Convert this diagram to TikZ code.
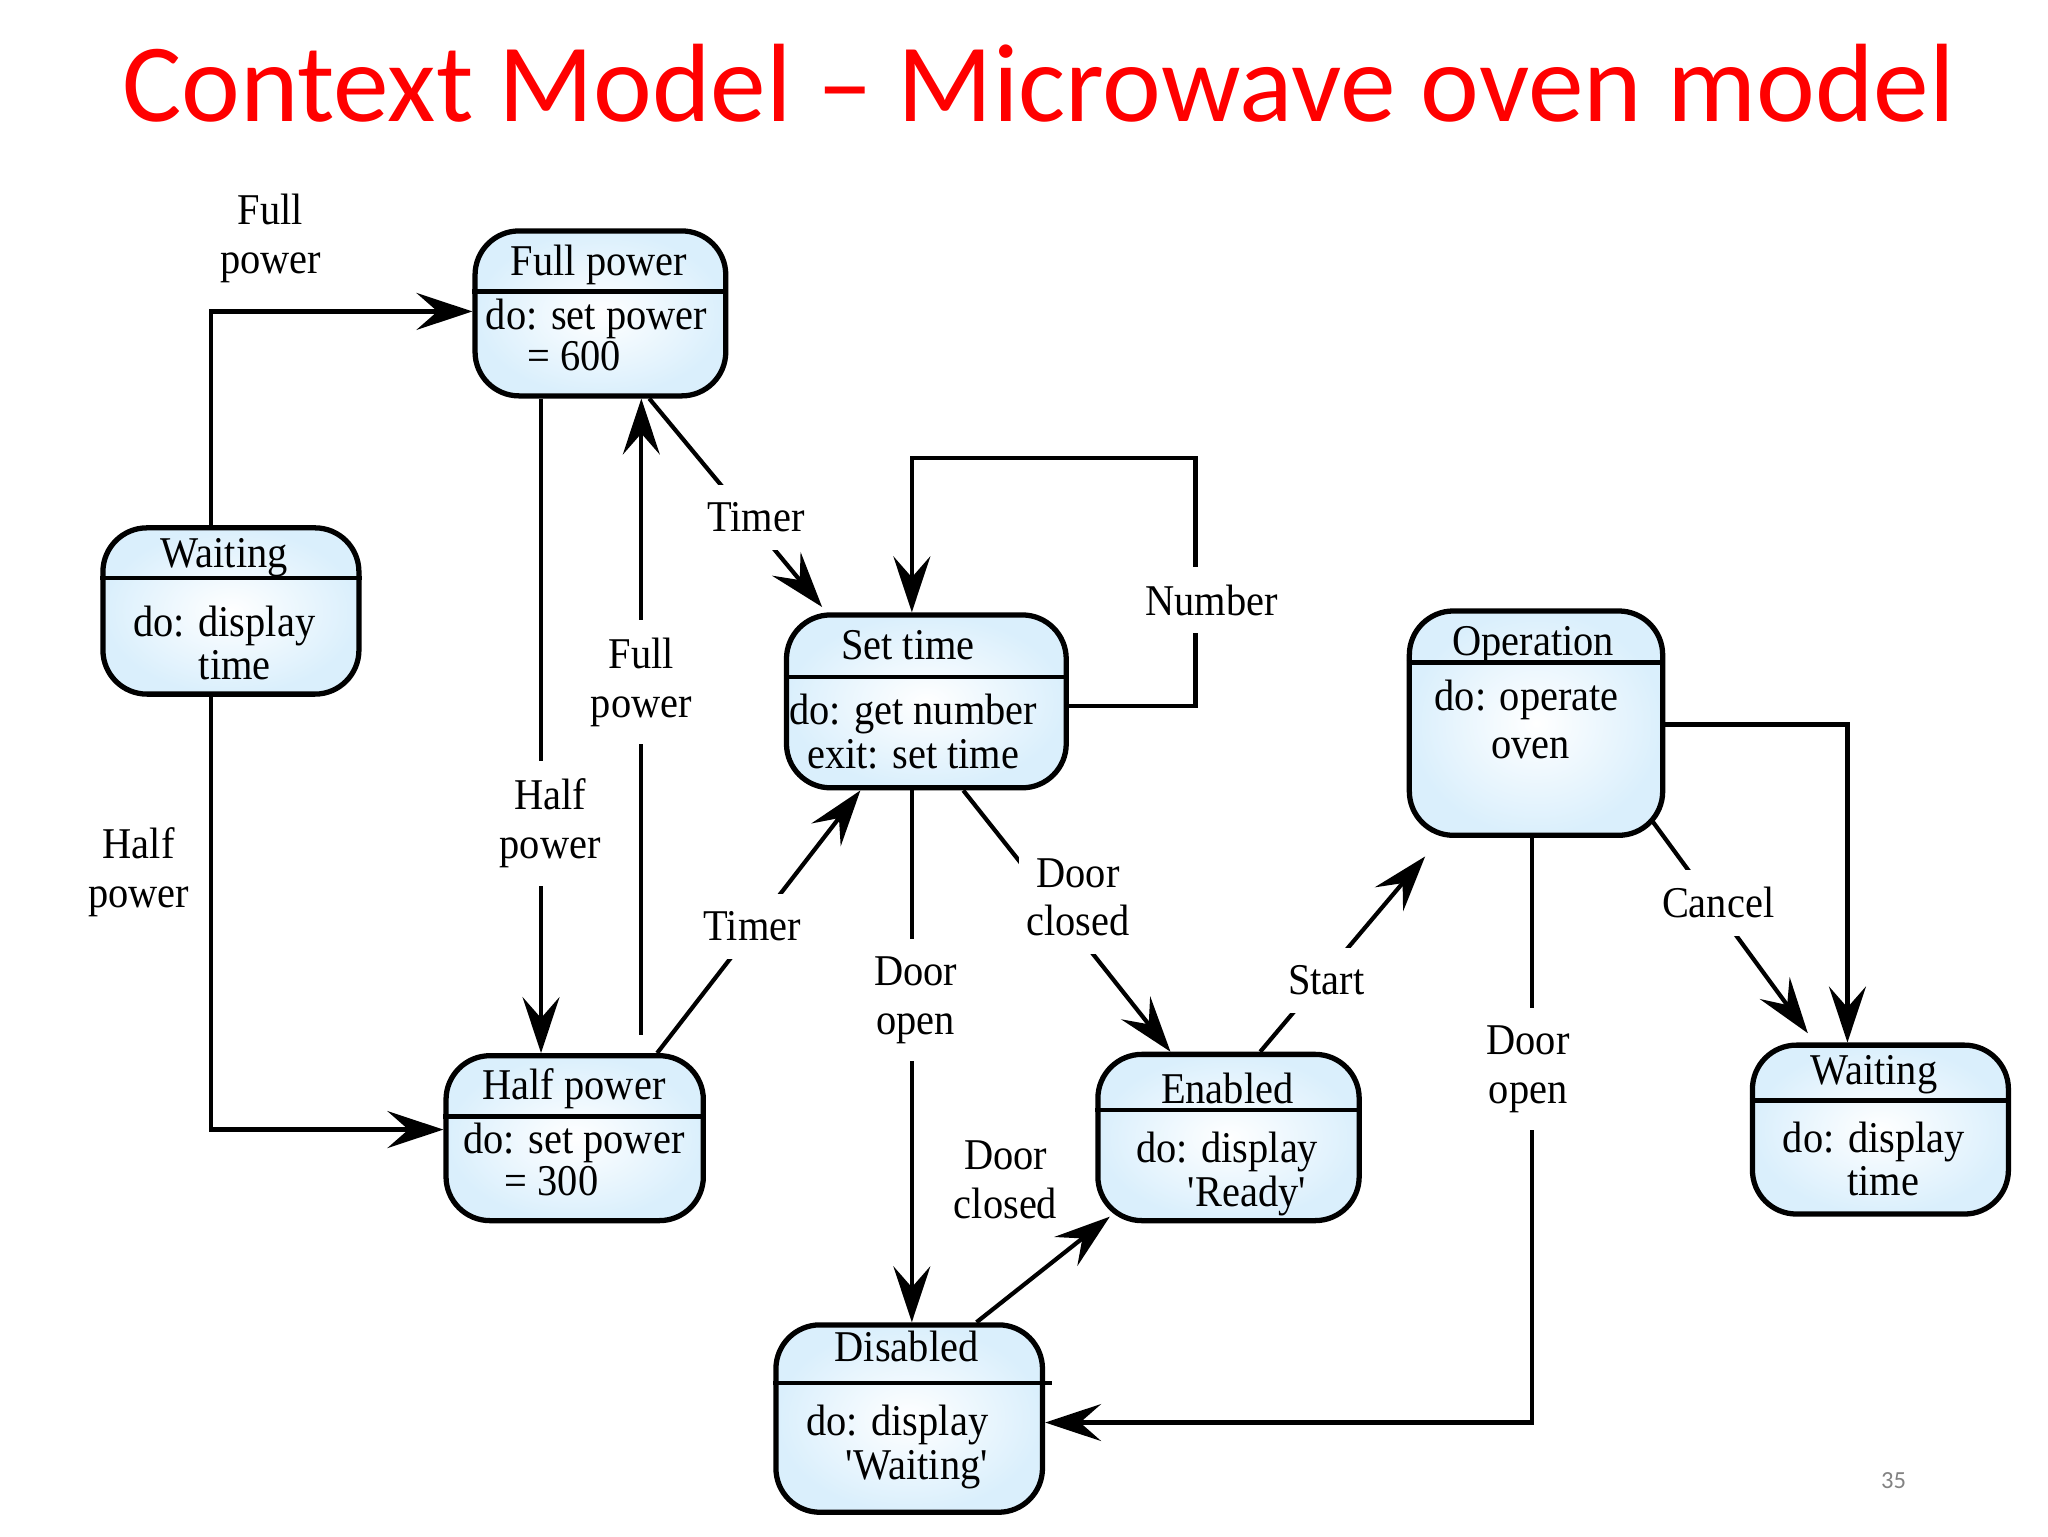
\documentclass[tikz,border=0pt]{standalone}
\usepackage{fontspec}
\setmainfont{Liberation Serif}[FakeStretch=0.92]
\newfontfamily\titlefont{Carlito}
\usetikzlibrary{arrows.meta,fit,calc}
\definecolor{stateblue}{RGB}{218,239,252}
\definecolor{titlered}{RGB}{255,0,0}
\definecolor{pagegray}{RGB}{130,130,130}
\begin{document}
\begin{tikzpicture}[x=0.013196cm,y=-0.013196cm,
  state/.style={draw, line width=1.5pt, rounded corners=0.44cm, inner sep=0pt, inner color=white, outer color=stateblue},
  sepline/.style={line width=1.3pt},
  txt/.style={inner sep=0pt, text height=1.48ex, text depth=0pt, font=\fontsize{12.5}{14}\selectfont},
  lbl/.style={inner sep=2pt, align=center, font=\fontsize{12.5}{13.9}\selectfont},
  lblc/.style={lbl, fill=white, inner xsep=2pt, inner ysep=5pt},
  conn/.style={line width=1.2pt, -{Stealth[length=0.56cm,width=0.37cm,inset=0.21cm]}}
]
\useasboundingbox (0,0) rectangle (1552,1164);

% title and page number
\node[font=\titlefont\fontsize{31.7}{38}\selectfont, text=titlered, anchor=base] (title) at (787,92) {Context Model – Microwave oven model};
\node[font=\titlefont\fontsize{7}{8}\selectfont, text=pagegray] (pg) at (1435,1122) {35};

% states
\node[state, fit={(360,175) (550,300)}] (fp) {};
\draw[sepline] (fp.west |- 0,221) -- (fp.east |- 0,221);
\node[txt] (fph) at (454,200) {Full power};
\node[txt] (fpa) at (452,241) {do: set power};
\node[txt] (fpb) at (435,272) {= 600};

\node[state, fit={(78,400) (272,526)}] (wl) {};
\draw[sepline] (wl.west |- 0,438) -- (wl.east |- 0,438);
\node[txt] (wlh) at (170,421) {Waiting};
\node[txt] (wla) at (170,473) {do: display};
\node[txt] (wlb) at (178,506) {time};

\node[state, fit={(596,466) (808,597)}] (st) {};
\draw[sepline] (st.west |- 0,513) -- (st.east |- 0,513);
\node[txt] (sth) at (688,491) {Set time};
\node[txt] (sta) at (692,540) {do: get number};
\node[txt] (stb) at (692,573) {exit: set time};

\node[state, fit={(1068,463) (1260,633)}] (op) {};
\draw[sepline] (op.west |- 0,502) -- (op.east |- 0,502);
\node[txt] (oph) at (1162,488) {Operation};
\node[txt] (opa) at (1157,529) {do: operate};
\node[txt] (opb) at (1160,566) {oven};

\node[state, fit={(338,800) (533,925)}] (hp) {};
\draw[sepline] (hp.west |- 0,846) -- (hp.east |- 0,846);
\node[txt] (hph) at (435,824) {Half power};
\node[txt] (hpa) at (435,865) {do: set power};
\node[txt] (hpb) at (418,897) {= 300};

\node[state, fit={(832,799) (1030,925)}] (en) {};
\draw[sepline] (en.west |- 0,841) -- (en.east |- 0,841);
\node[txt] (enh) at (930,827) {Enabled};
\node[txt] (ena) at (930,872) {do: display};
\node[txt] (enb) at (945,905) {\textquotesingle Ready\textquotesingle};

\node[state, fit={(1328,792) (1522,920)}] (wr) {};
\draw[sepline] (wr.west |- 0,834) -- (wr.east |- 0,834);
\node[txt] (wrh) at (1420,813) {Waiting};
\node[txt] (wra) at (1420,864) {do: display};
\node[txt] (wrb) at (1427,897) {time};

\node[state, fit={(588,1004) (790,1146)}] (di) {};
\draw[sepline] (di.west |- 0,1048) -- ([xshift=2pt]di.east |- 0,1048);
\node[txt] (dih) at (687,1023) {Disabled};
\node[txt] (dia) at (680,1079) {do: display};
\node[txt] (dib) at (695,1112) {\textquotesingle Waiting\textquotesingle};

% connectors
\coordinate (loop) at (906,347);
\draw[conn] (wl.north -| 160,0) |- (fp.west |- 0,236);
\draw[conn] (wl.south -| 160,0) |- (hp.west |- 0,856);
\draw[conn] (fp.south -| 410,0) -- (hp.north -| 410,0);
\draw[conn] ($(hp.north -| 486,0)+(0,-14)$) -- (fp.south -| 486,0);
\draw[conn] (fp.south -| 492,0) -- ($(st.north west)+(29,-4)$);
\draw[conn] (hp.north -| 498,0) -- (st.south -| 652,0);
\draw[conn] (st.east |- 0,535) -| (loop) -| (st.north -| 691,0);
\draw[conn] (st.south -| 691,0) -- (di.north -| 691,0);
\draw[conn] (st.south -| 730,0) -- (en.north -| 887,0);
\draw[conn] (di.north -| 740,0) -- ($(en.south west)+(11,-5)$);
\draw[conn] (en.north -| 955,0) -- ($(op.south west)+(14,14)$);
\draw[conn] (op.south -| 1161,0) |- (di.east |- 0,1078);
\draw[conn] ($(op.south east)+(-10,-13)$) -- ($(wr.north west)+(44,-7)$);
\draw[conn] (op.east |- 0,549) -| (wr.north -| 1400,0);

% labels
\node[lbl] (l1) at (205,181) {Full\\power};
\node[lbl] (l2) at (105,661) {Half\\power};
\node[lblc] (l3) at (417,624) {Half\\power};
\node[lblc] (l4) at (486,517) {Full\\power};
\node[lblc] (l5) at (573,392) {Timer};
\node[lblc] (l6) at (570,702) {Timer};
\node[lblc] (l7) at (918,455) {Number};
\node[lblc] (l8) at (694,758) {Door\\open};
\node[lblc] (l9) at (817,680) {Door\\closed};
\node[lbl] (l10) at (762,894) {Door\\closed};
\node[lblc] (l11) at (1005,743) {Start};
\node[lblc] (l12) at (1158,810) {Door\\open};
\node[lblc] (l13) at (1302,684) {Cancel};
\end{tikzpicture}
\end{document}
